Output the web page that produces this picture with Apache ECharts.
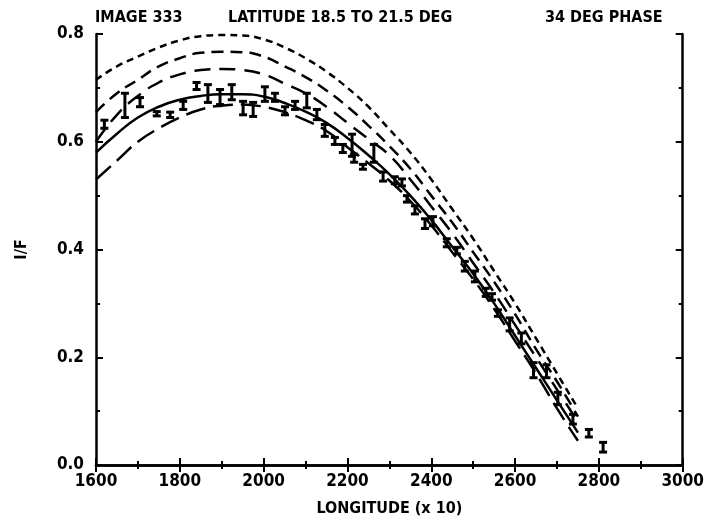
<!DOCTYPE html>
<html><head><meta charset="utf-8">
<script src="https://cdn.jsdelivr.net/npm/echarts@6/dist/echarts.min.js"></script>
<style>html,body{margin:0;padding:0;background:#fff}#c{width:707px;height:522px}</style>
</head><body><div id="c"></div><script>
// Observed I/F with error bars
const obsLon  = [1620,1669,1705,1745,1777,1808,1840,1867,1896,1924,1951,1975,2003,2027,2051,2075,2103,2127,2146,2170,2189,2211,2216,2237,2263,2285,2313,2330,2342,2361,2385,2404,2437,2461,2480,2504,2530,2545,2559,2587,2615,2644,2675,2702,2738,2776,2810];
const obsLow  = [0.625,0.645,0.665,0.648,0.645,0.660,0.697,0.673,0.669,0.678,0.650,0.647,0.675,0.675,0.650,0.660,0.663,0.641,0.610,0.595,0.580,0.573,0.562,0.549,0.562,0.527,0.522,0.518,0.488,0.466,0.439,0.444,0.405,0.392,0.360,0.340,0.313,0.306,0.276,0.249,0.225,0.162,0.162,0.112,0.076,0.052,0.024];
const obsHigh = [0.640,0.690,0.682,0.656,0.655,0.675,0.710,0.706,0.697,0.706,0.675,0.673,0.702,0.690,0.665,0.675,0.690,0.660,0.632,0.608,0.595,0.614,0.577,0.558,0.595,0.544,0.535,0.531,0.500,0.481,0.457,0.461,0.420,0.404,0.378,0.360,0.328,0.318,0.288,0.273,0.245,0.190,0.186,0.135,0.094,0.066,0.042];

// Model curves
const modelLon   = [1600,1650,1700,1750,1800,1850,1900,1950,2000,2050,2100,2150,2200,2250,2300,2350,2400,2450,2500,2550,2600,2650,2700,2750];
const modelShort = [0.715,0.740,0.758,0.775,0.788,0.796,0.798,0.797,0.790,0.775,0.755,0.730,0.700,0.665,0.623,0.580,0.530,0.475,0.420,0.360,0.300,0.235,0.170,0.105];
const modelMed   = [0.655,0.690,0.715,0.740,0.755,0.765,0.767,0.766,0.758,0.740,0.720,0.695,0.665,0.630,0.592,0.550,0.500,0.450,0.395,0.340,0.280,0.215,0.155,0.090];
const modelLong  = [0.600,0.650,0.685,0.710,0.725,0.733,0.735,0.733,0.725,0.708,0.690,0.665,0.635,0.605,0.575,0.530,0.480,0.430,0.375,0.320,0.260,0.200,0.140,0.080];
const modelSolid = [0.580,0.615,0.645,0.665,0.678,0.685,0.688,0.688,0.684,0.672,0.656,0.635,0.607,0.575,0.540,0.500,0.455,0.405,0.355,0.300,0.240,0.180,0.120,0.060];
const modelLow   = [0.530,0.565,0.600,0.625,0.645,0.660,0.667,0.669,0.665,0.655,0.640,0.620,0.590,0.560,0.528,0.490,0.445,0.395,0.345,0.290,0.230,0.170,0.105,0.045];

const titleLeft = 'IMAGE 333';
const titleMid = 'LATITUDE 18.5 TO 21.5 DEG';
const titleRight = '34 DEG PHASE';
const xName = 'LONGITUDE (x 10)';
const yName = 'I/F';

const FONT = '"DejaVu Sans Condensed","DejaVu Sans",sans-serif';
const zip = a => modelLon.map((x, i) => [x, a[i]]);
const lineSeries = (data, type, width) => ({
  type: 'line', data: zip(data), showSymbol: false, smooth: true, silent: true,
  lineStyle: { color: '#000', width: width, type: type }
});

const axisCommon = {
  axisLine: { show: true, lineStyle: { color: '#000', width: 2.5 } },
  axisTick: { show: true, inside: true, length: 7, lineStyle: { color: '#000', width: 2 } },
  minorTick: { show: true, splitNumber: 2, length: 4, lineStyle: { color: '#000', width: 2 } },
  splitLine: { show: false }
};

const chart = echarts.init(document.getElementById('c'));
chart.setOption({
  animation: false,
  backgroundColor: '#fff',
  grid: { left: 96, right: 24, top: 34, bottom: 54 },
  xAxis: [
    Object.assign({ type: 'value', min: 1600, max: 3000, interval: 200, position: 'bottom',
      name: xName, nameLocation: 'middle', nameGap: 36,
      nameTextStyle: { fontFamily: FONT, fontWeight: 'bold', fontSize: 16, color: '#000' },
      axisLabel: { fontFamily: FONT, fontWeight: 'bold', fontSize: 17, color: '#000', margin: 8,
        formatter: v => String(v) } }, axisCommon),
    Object.assign({ type: 'value', min: 1600, max: 3000, interval: 200, position: 'top',
      axisLabel: { show: false } }, axisCommon)
  ],
  yAxis: [
    Object.assign({ type: 'value', min: 0, max: 0.8, interval: 0.2, position: 'left',
      name: yName, nameLocation: 'middle', nameGap: 66, nameRotate: 90,
      nameTextStyle: { fontFamily: FONT, fontWeight: 'bold', fontSize: 16, color: '#000' },
      axisLabel: { fontFamily: FONT, fontWeight: 'bold', fontSize: 17, color: '#000', margin: 12,
        formatter: v => v.toFixed(1) } }, axisCommon),
    Object.assign({ type: 'value', min: 0, max: 0.8, interval: 0.2, position: 'right',
      axisLabel: { show: false } }, axisCommon)
  ],
  series: [
    lineSeries(modelShort, [7, 5], 2.5),
    lineSeries(modelMed, [12, 7], 2.5),
    lineSeries(modelLong, [16, 9], 2.5),
    lineSeries(modelSolid, 'solid', 2.5),
    lineSeries(modelLow, [20, 8], 2.5),
    {
      type: 'custom', silent: true,
      data: obsLon.map((x, i) => [x, obsLow[i], obsHigh[i]]),
      renderItem: function (params, api) {
        const x = api.value(0);
        const a = api.coord([x, api.value(1)]);
        const b = api.coord([x, api.value(2)]);
        const w = 4, st = { stroke: '#000', lineWidth: 3 };
        return { type: 'group', children: [
          { type: 'line', shape: { x1: a[0], y1: a[1], x2: b[0], y2: b[1] }, style: st },
          { type: 'line', shape: { x1: a[0] - w, y1: a[1], x2: a[0] + w, y2: a[1] }, style: st },
          { type: 'line', shape: { x1: b[0] - w, y1: b[1], x2: b[0] + w, y2: b[1] }, style: st }
        ]};
      }
    }
  ],
  graphic: [
    { type: 'text', left: 95, top: 10, style: { text: titleLeft, font: 'bold 16px ' + FONT, fill: '#000' } },
    { type: 'text', left: 228, top: 10, style: { text: titleMid, font: 'bold 16px ' + FONT, fill: '#000' } },
    { type: 'text', left: 545, top: 10, style: { text: titleRight, font: 'bold 16px ' + FONT, fill: '#000' } }
  ]
});
</script></body></html>
